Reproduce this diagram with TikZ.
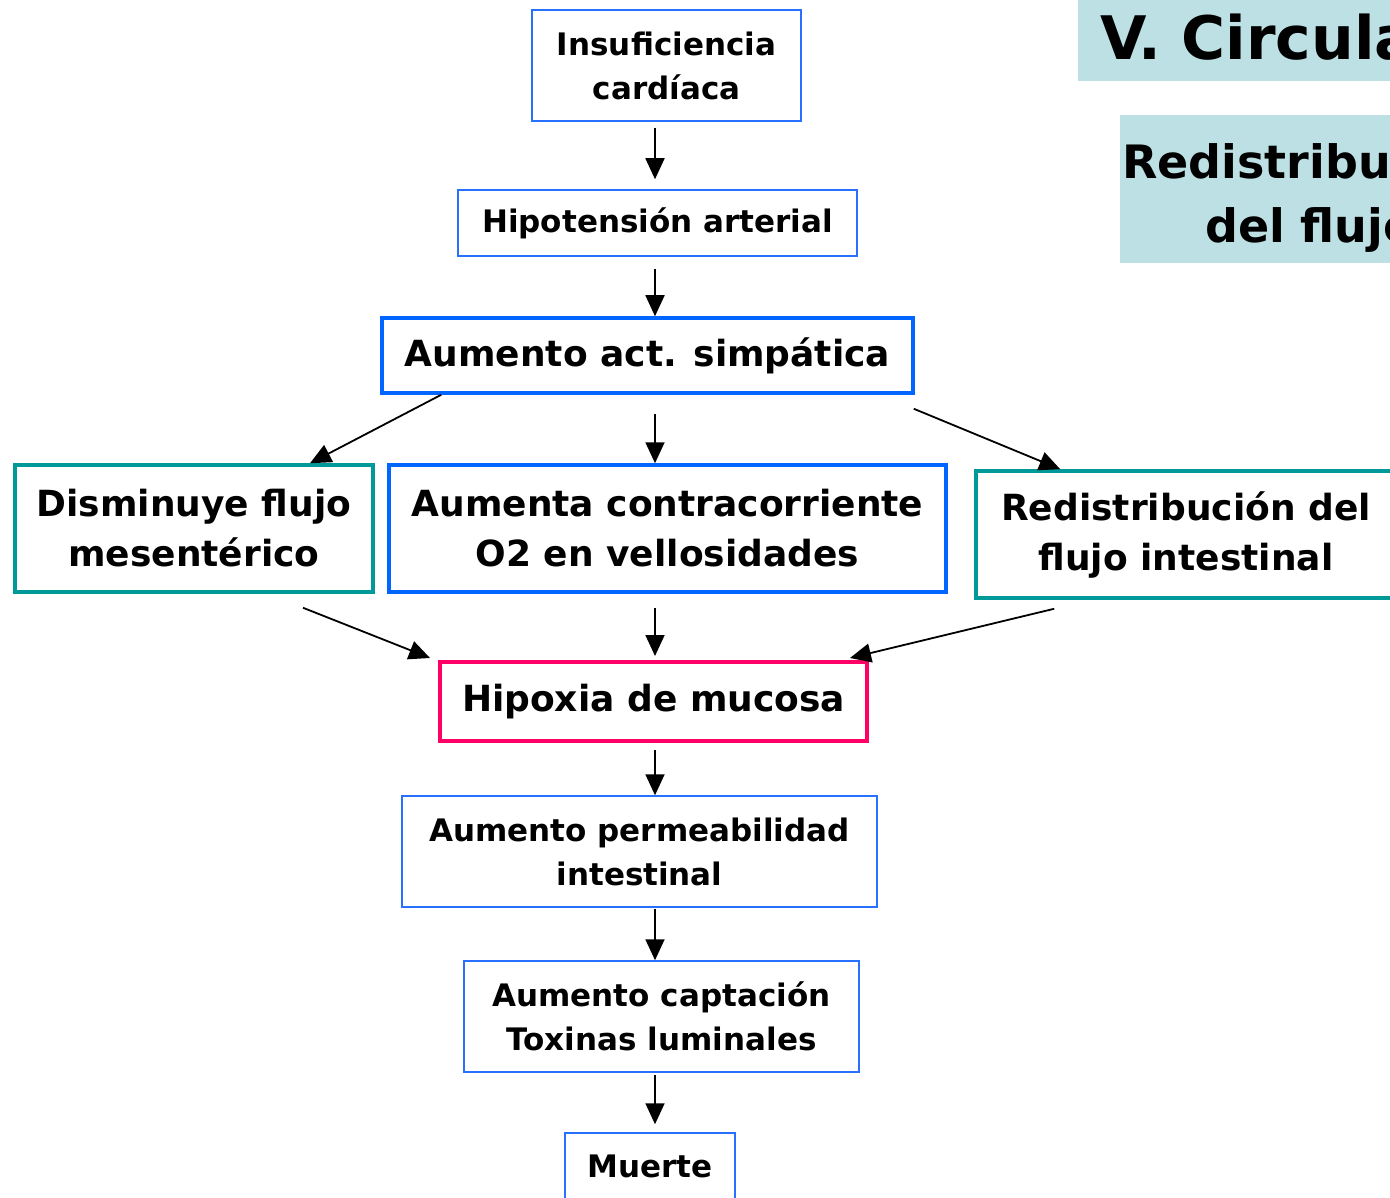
\documentclass[tikz,border=0pt]{standalone}
\usepackage{fontspec}
\setmainfont{DejaVu Sans}
\usepackage{tikz}
\usetikzlibrary{arrows.meta, calc}
\definecolor{boxblue}{RGB}{0, 102, 255}
\definecolor{thinblue}{RGB}{40, 112, 255}
\definecolor{boxteal}{RGB}{0, 153, 153}
\definecolor{boxpink}{RGB}{255, 0, 102}
\definecolor{titlefill}{RGB}{189, 224, 228}
\newcommand{\fsSmall}{\fontsize{31}{44}\selectfont\bfseries}
\newcommand{\fsBig}{\fontsize{36}{50}\selectfont\bfseries}
\newcommand{\fsTitle}{\fontsize{60}{66}\selectfont\bfseries}
\newcommand{\fsSub}{\fontsize{46}{64}\selectfont\bfseries}
\tikzset{
  thinbox/.style={draw=thinblue, line width=1.5pt, align=center, inner sep=0pt, font=\fsSmall},
  bigbox/.style={draw=#1, line width=3.5pt, align=center, inner sep=0pt, font=\fsBig},
  flecha/.style={-{Triangle[length=21pt,width=19pt]}, line width=1.8pt},
  titlebox/.style={fill=titlefill, inner sep=0pt}
}
\begin{document}
\begin{tikzpicture}[x=1pt, y=-1pt]
        \useasboundingbox (0,0) rectangle (1390,1198);
        \clip (0,0) rectangle (1390,1198);
        % titulo
        \node[titlebox, anchor=north west, text width=700pt, minimum height=91pt, align=left, inner xsep=22pt, font=\fsTitle] (tit) at (1078,-10) {V. Circulación};
        \node[titlebox, anchor=north west, text width=380pt, minimum height=148pt, align=center, font=\fsSub] (sub) at (1120,115) {\rule{0pt}{52pt}Redistribución\\del flujo};
        % cajas
        \node[thinbox, minimum width=269pt, minimum height=111pt] (ins) at (666.5,65.5) {Insuficiencia\\cardíaca};
        \node[thinbox, minimum width=399pt, minimum height=66pt] (hip) at (657.5,223) {Hipotensión arterial};
        \node[bigbox=boxblue, minimum width=531pt, minimum height=75pt] (sim) at (647.5,355.5) {Aumento act. simpática};
        \node[bigbox=boxteal, minimum width=358pt, minimum height=127pt] (dis) at (194,528.5) {Disminuye flujo\\mesentérico};
        \node[bigbox=boxblue, minimum width=557pt, minimum height=127pt] (aum) at (667.5,528.5) {Aumenta contracorriente\\O2 en vellosidades};
        \node[bigbox=boxteal, minimum width=420pt, minimum height=127pt] (red) at (1186,534.5) {Redistribución del\\flujo intestinal};
        \node[bigbox=boxpink, line width=4pt, minimum width=427pt, minimum height=79pt] (hm) at (653.5,701.5) {Hipoxia de mucosa};
        \node[thinbox, minimum width=475pt, minimum height=111pt] (per) at (639.5,851.5) {Aumento permeabilidad\\intestinal};
        \node[thinbox, minimum width=395pt, minimum height=111pt] (cap) at (661.5,1016.5) {Aumento captación\\Toxinas luminales};
        \node[thinbox, minimum width=170pt, minimum height=66pt] (mue) at (650,1166) {Muerte};
        % flechas
        \draw[flecha] ([xshift=-11.5pt, yshift=-6pt]ins.south) -- ([xshift=-2.5pt, yshift=10pt]hip.north);
        \draw[flecha] ([xshift=-2.5pt, yshift=-12pt]hip.south) -- ([xshift=7.5pt]sim.north);
        \draw[flecha] ([xshift=61pt]sim.south west) -- ([xshift=116pt]dis.north);
        \draw[flecha] ([xshift=7.5pt, yshift=-19pt]sim.south) -- ([xshift=-12.5pt]aum.north);
        \draw[flecha] ([xshift=-1pt, yshift=-14pt]sim.south east) -- ([xshift=86pt]red.north west);
        \draw[flecha] ([xshift=109pt, yshift=-14pt]dis.south) -- ([xshift=-8pt, yshift=2pt]hm.north west);
        \draw[flecha] ([xshift=-12.5pt, yshift=-14pt]aum.south) -- ([xshift=1.5pt, yshift=4pt]hm.north);
        \draw[flecha] ([xshift=80pt, yshift=-9pt]red.south west) -- ([xshift=-19pt, yshift=2pt]hm.north east);
        \draw[flecha] ([xshift=1.5pt, yshift=-7pt]hm.south) -- ([xshift=15.5pt]per.north);
        \draw[flecha] ([xshift=15.5pt, yshift=-1pt]per.south) -- ([xshift=-6.5pt]cap.north);
        \draw[flecha] ([xshift=-6.5pt, yshift=-2pt]cap.south) -- ([xshift=5pt, yshift=8pt]mue.north);
\end{tikzpicture}
\end{document}
